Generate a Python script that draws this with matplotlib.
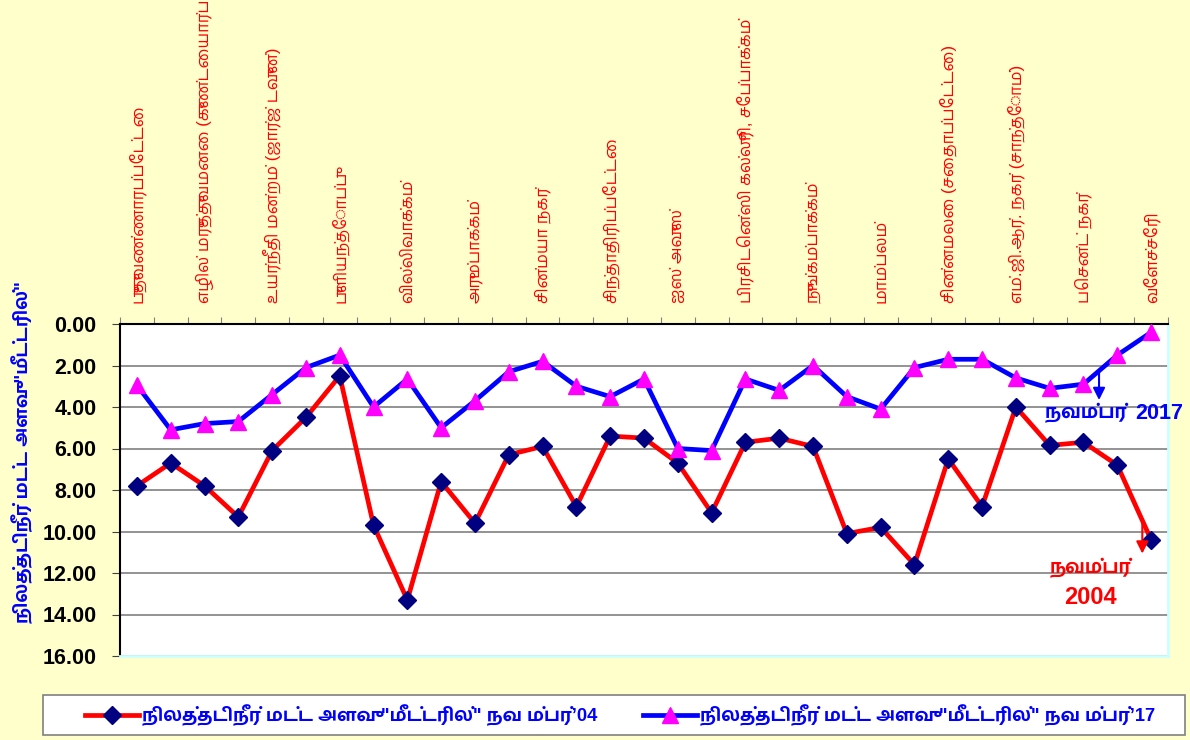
import numpy as np
import matplotlib
matplotlib.use("Agg")
import matplotlib.pyplot as plt
from matplotlib.lines import Line2D
from matplotlib.patches import Rectangle

# Latin from Liberation Sans, Tamil glyphs fall through to Hind Madurai
plt.rcParams['font.family'] = ['Liberation Sans', 'Hind Madurai', 'DejaVu Sans']

# data
locations = ['புதுவண்ணாரப்பேட்டை', 'எழில் மருத்துவமனை (குண்டையார்பேட்டை)',
             'உயர்நீதி மன்றம் (ஜார்ஜ் டவுன்)', 'புளியந்தோப்பு', 'வில்லிவாக்கம்',
             'அரும்பாக்கம்', 'சின்மயா நகர்', 'சிந்தாதிரிப்பேட்டை', 'ஐஸ் அவுஸ்',
             'பிரசிடென்ஸி கல்லூரி, சேப்பாக்கம்', 'நுங்கம்பாக்கம்', 'மாம்பலம்',
             'சின்னமலை (சைதாப்பேட்டை)', 'எம்.ஜி.ஆர். நகர் (சாந்தோம்)', 'பெசன்ட் நகர்',
             'வேளச்சேரி']
level_2004 = [7.8, 6.7, 7.8, 9.3, 6.1, 4.5, 2.5, 9.7, 13.3, 7.6, 9.6, 6.3, 5.9, 8.8, 5.4, 5.5,
              6.7, 9.1, 5.7, 5.5, 5.9, 10.1, 9.8, 11.6, 6.5, 8.8, 4.0, 5.85, 5.7, 6.8, 10.4]
level_2017 = [2.95, 5.1, 4.8, 4.7, 3.4, 2.1, 1.5, 4.0, 2.65, 5.0, 3.7, 2.3, 1.8, 3.0, 3.5, 2.65,
              6.0, 6.1, 2.65, 3.2, 2.0, 3.5, 4.1, 2.1, 1.7, 1.7, 2.6, 3.1, 2.9, 1.5, 0.4]
yticks = [0, 2, 4, 6, 8, 10, 12, 14, 16]
label_04 = 'நிலத்தடிநீர் மட்ட அளவு "மீட்டரில்" நவ ம்பர்’04'
label_17 = 'நிலத்தடிநீர் மட்ட அளவு "மீட்டரில்" நவ ம்பர்’17'
ylabel = 'நிலத்தடிநீர் மட்ட அளவு "மீட்டரில்"'

x = np.arange(len(level_2004))

fig = plt.figure(figsize=(11.9, 7.4), dpi=100, facecolor='#FFFFCC')
ax = fig.add_axes([120/1190, 1-656/740, 1048/1190, 332/740])
ax.set_facecolor('white')

ax.plot(x, level_2004, color='#FF0000', lw=3.4, marker='D', ms=9.5,
        mfc='#000080', mec='#000080', zorder=3)
ax.plot(x, level_2017, color='#0000FF', lw=3.4, marker='^', ms=11,
        mfc='#FF00FF', mec='#FF00FF', zorder=3)

ax.set_xlim(-0.5, len(x) - 0.5)
ax.set_ylim(16, 0)
ax.set_yticks(yticks)
ax.set_yticklabels(['%.2f' % v for v in yticks], fontsize=15.5, fontweight='bold')
ax.yaxis.grid(True, color='#808080', lw=1.2)
ax.set_axisbelow(True)

# category axis on top, ticks between categories, every other name shown
ax.xaxis.tick_top()
ax.set_xticks(np.arange(-0.5, len(x), 1.0))
ax.set_xticklabels([])
ax.set_xticks(x[::2], minor=True)
ax.set_xticklabels(locations, minor=True, rotation=90, color='#FF0000', fontsize=12)
ax.tick_params(axis='x', which='major', length=5, color='#808080', top=True, bottom=False)
ax.tick_params(axis='x', which='minor', length=0, pad=15, top=True, bottom=False)
ax.tick_params(axis='y', length=6, color='#404040', pad=11)

for s in ['left', 'top']:
    ax.spines[s].set_color('black')
    ax.spines[s].set_linewidth(1.5)
for s in ['right', 'bottom']:
    ax.spines[s].set_color('#CCFFFF')
    ax.spines[s].set_linewidth(2)

fig.text(22/1190, 1-452/740, ylabel, rotation=90, ha='center', va='center',
         color='#0000FF', fontsize=13.3, fontweight='bold')

# annotations
ax.annotate('', xy=(28.46, 3.8), xytext=(28.46, 2.1),
            arrowprops=dict(arrowstyle='-|>', color='#0000FF', lw=1.5, mutation_scale=18))
ax.text(26.85, 4.3, 'நவம்பர் ', color='#0000FF', fontsize=13.5, fontweight='bold',
        ha='left', va='center')
ax.text(30.95, 4.3, '2017', color='#0000FF', fontsize=15.5, fontweight='bold',
        ha='right', va='center')
ax.annotate('', xy=(29.74, 11.2), xytext=(29.74, 9.45),
            arrowprops=dict(arrowstyle='-|>', color='#FF0000', lw=1.5, mutation_scale=18))
ax.text(28.2, 11.75, 'நவம்பர்', color='#FF0000', fontsize=13.5, fontweight='bold',
        ha='center', va='center')
ax.text(28.2, 13.2, '2004', color='#FF0000', fontsize=17, fontweight='bold',
        ha='center', va='center')

# legend box wider than its entries, as in the original
fig.patches.append(Rectangle((43/1190, 1-735/740), 1142/1190, 40/740,
                             transform=fig.transFigure, facecolor='white',
                             edgecolor='#808080', lw=1.2, zorder=0))
handles = [Line2D([], [], color='#FF0000', lw=3.4, marker='D', ms=9, mfc='#000080', mec='#000080'),
           Line2D([], [], color='#0000FF', lw=3.4, marker='^', ms=12, mfc='#FF00FF', mec='#FF00FF')]
leg = fig.legend(handles, [label_04, label_17], loc='center', ncol=2,
                 bbox_to_anchor=(620/1190, 1-715/740), frameon=False,
                 prop={'size': 13.2, 'weight': 'bold'}, handlelength=2.95, handletextpad=0.17,
                 columnspacing=2.45, borderpad=0.2)
for t in leg.get_texts():
    t.set_color('#0000FF')

fig.savefig('out.png', dpi=100, facecolor=fig.get_facecolor())
